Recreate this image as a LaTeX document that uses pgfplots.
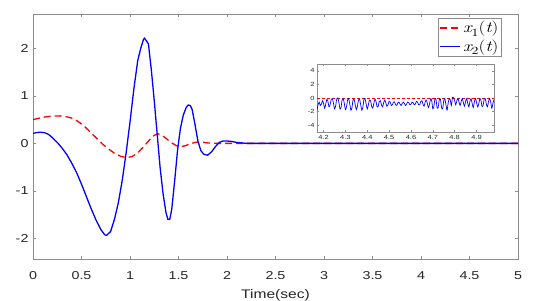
\documentclass[border=0pt]{standalone}
\usepackage{fontspec}
\setmainfont{Liberation Sans}[FakeStretch=1.25]
\newfontfamily\lmr{Latin Modern Roman}[FakeStretch=1.25]
\usepackage{pgfplots}
\pgfplotsset{compat=1.18}
\definecolor{axgray}{gray}{0.55}
\definecolor{lblgray}{gray}{0.15}
\newcommand{\xt}[1]{{\lmr\itshape x\raisebox{-3.2bp}{\fontsize{11}{11}\selectfont\upshape #1}\upshape(\itshape t\upshape)}}
\begin{document}
\begin{tikzpicture}
\begin{axis}[
  name=main, at={(0,0)}, anchor=south west,
  scale only axis, width=485bp, height=245bp,
  xmin=0, xmax=5, ymin=-2.44, ymax=2.73,
  xtick={0,0.5,...,5}, ytick={-2,-1,0,1,2},
  /pgf/number format/assume math mode=true,
  tick label style={font=\fontsize{11.5}{12}\selectfont, text=lblgray},
  xticklabel style={yshift=-9bp},
  yticklabel style={xshift=-1bp},
  tick align=inside, major tick length=3.5bp,
  axis line style={axgray, line width=0.6bp},
  every tick/.style={axgray, line width=0.5bp},
  xlabel={Time(sec)},
  xlabel style={font=\fontsize{12.5}{14}\selectfont, text=lblgray, yshift=-3bp},
  legend style={at={(0.967,0.984)}, anchor=north east, draw=axgray, line width=0.6bp,
    font=\fontsize{15.5}{17}\selectfont, inner sep=1.2bp, row sep=1.5bp, cells={anchor=west}},
  legend image code/.code={\draw[#1] (0bp,0bp) -- (20bp,0bp);},
  clip=true,
]
\addplot[red, draw=red, line width=1.3bp, dash pattern=on 7bp off 4bp] coordinates {
(0,0.5)(0.1,0.55)(0.2,0.575)(0.28,0.58)(0.35,0.56)(0.42,0.52)(0.48,0.44)(0.54,0.34)(0.6,0.22)(0.66,0.1)(0.72,-0.02)(0.78,-0.12)(0.84,-0.21)(0.9,-0.27)(0.96,-0.3)(1.02,-0.28)(1.08,-0.2)(1.14,-0.07)(1.2,0.07)(1.25,0.17)(1.29,0.2)(1.33,0.17)(1.38,0.09)(1.43,0.01)(1.48,-0.05)(1.52,-0.07)(1.57,-0.05)(1.62,-0.01)(1.67,0.02)(1.72,0.03)(1.8,0.01)(1.9,0.0)(5,0)
};
\addlegendentry{\xt{1}}
\addplot[blue, draw=blue, line width=1.3bp] coordinates {
(0,0.21)(0.04,0.23)(0.08,0.235)(0.12,0.225)(0.16,0.19)(0.2,0.12)(0.25,0.02)(0.3,-0.1)(0.35,-0.24)(0.4,-0.42)(0.45,-0.62)(0.5,-0.86)(0.55,-1.12)(0.6,-1.38)(0.65,-1.62)(0.7,-1.82)(0.74,-1.93)(0.76,-1.94)(0.8,-1.86)(0.84,-1.6)(0.88,-1.25)(0.92,-0.78)(0.96,-0.2)(1.0,0.45)(1.04,1.15)(1.08,1.75)(1.11,2.0)(1.14,2.2)(1.15,2.22)(1.19,2.1)(1.22,1.55)(1.25,0.9)(1.28,0.2)(1.31,-0.5)(1.34,-1.05)(1.37,-1.45)(1.39,-1.6)(1.41,-1.6)(1.43,-1.4)(1.46,-0.8)(1.49,-0.15)(1.52,0.32)(1.55,0.6)(1.58,0.76)(1.6,0.81)(1.62,0.8)(1.64,0.72)(1.67,0.4)(1.7,0.05)(1.73,-0.15)(1.76,-0.23)(1.8,-0.25)(1.84,-0.18)(1.88,-0.07)(1.92,0.02)(1.96,0.05)(2.0,0.05)(2.05,0.04)(2.1,0.02)(2.2,0.0)(2.4,0.0)(5,0)
};
\addlegendentry{\xt{2}}
\end{axis}
\begin{axis}[
  at={(284bp,127bp)}, anchor=south west,
  scale only axis, width=177bp, height=68bp,
  xmin=4.17, xmax=4.98, ymin=-5, ymax=5,
  xtick={4.2,4.3,...,4.9}, ytick={-4,-2,0,2,4},
  xticklabels={4.2,4.3,4.4,4.5,4.6,4.7,4.8,4.9},
  /pgf/number format/assume math mode=true,
  tick label style={font=\fontsize{6}{7}\selectfont, text=lblgray},
  xticklabel style={yshift=0bp},
  yticklabel style={xshift=1bp},
  tick align=inside, major tick length=2bp,
  axis line style={axgray, line width=0.5bp},
  every tick/.style={axgray, line width=0.4bp},
  axis background/.style={fill=white},
]
\addplot[red, draw=red, line width=0.7bp, dash pattern=on 3bp off 2bp] coordinates {(4.17,0)(4.98,0)};
\addplot[blue, draw=blue, line width=0.7bp, smooth, tension=0.5] coordinates {
(4.170,-1.8)(4.175,-1.0)(4.180,-0.6)(4.185,-1.1)(4.190,-0.9)(4.195,-0.4)(4.200,-0.8)(4.205,-1.5)(4.210,-0.9)(4.215,-0.2)(4.220,-0.5)(4.225,-1.3)(4.230,-1.0)(4.235,-0.2)(4.240,-0.1)(4.245,-0.7)(4.250,-1.6)(4.255,-1.2)(4.260,-0.2)(4.265,0.0)(4.270,-0.6)(4.275,-1.6)(4.280,-1.4)(4.285,-0.3)(4.290,-0.1)(4.295,-0.8)(4.300,-1.7)(4.305,-1.3)(4.310,-0.3)(4.315,-0.1)(4.320,-0.9)(4.325,-1.8)(4.330,-1.4)(4.335,-0.3)(4.340,-0.2)(4.345,-1.0)(4.350,-1.7)(4.355,-1.2)(4.360,-0.3)(4.365,-0.2)(4.370,-1.0)(4.375,-1.8)(4.380,-1.3)(4.385,-0.2)(4.390,-0.1)(4.395,-0.9)(4.400,-1.6)(4.405,-1.0)(4.410,-0.3)(4.415,-0.4)(4.420,-1.2)(4.425,-1.5)(4.430,-0.8)(4.435,-0.2)(4.440,-0.5)(4.445,-1.3)(4.450,-1.2)(4.455,-0.5)(4.460,-0.4)(4.465,-1.0)(4.470,-1.3)(4.475,-0.7)(4.480,-0.3)(4.485,-0.7)(4.490,-1.2)(4.495,-1.0)(4.500,-0.5)(4.505,-0.6)(4.510,-1.1)(4.515,-1.0)(4.520,-0.6)(4.525,-0.6)(4.530,-1.0)(4.535,-1.1)(4.540,-0.7)(4.545,-0.6)(4.550,-0.9)(4.555,-1.1)(4.560,-0.8)(4.565,-0.6)(4.570,-0.8)(4.575,-1.1)(4.580,-0.9)(4.585,-0.6)(4.590,-0.7)(4.595,-1.0)(4.600,-0.9)(4.605,-0.6)(4.610,-0.7)(4.615,-1.0)(4.620,-0.9)(4.625,-0.5)(4.630,-0.6)(4.635,-1.0)(4.640,-1.0)(4.645,-0.5)(4.650,-0.4)(4.655,-0.9)(4.660,-1.2)(4.665,-0.6)(4.670,-0.3)(4.675,-0.8)(4.680,-1.4)(4.685,-0.9)(4.690,-0.1)(4.695,-0.4)(4.700,-1.6)(4.705,-1.2)(4.710,-0.1)(4.715,-0.3)(4.720,-1.5)(4.725,-1.3)(4.730,-0.2)(4.735,-0.2)(4.740,-1.4)(4.745,-1.6)(4.750,-0.4)(4.755,-0.1)(4.760,-1.0)(4.765,-1.8)(4.770,-0.8)(4.775,-0.1)(4.780,-0.3)(4.785,-1.1)(4.790,0.1)(4.795,0.0)(4.800,-0.4)(4.805,-1.0)(4.810,-0.4)(4.815,-0.1)(4.820,-0.6)(4.825,-1.1)(4.830,-0.5)(4.835,-0.1)(4.840,-0.7)(4.845,-1.2)(4.850,-0.5)(4.855,-0.1)(4.860,-0.8)(4.865,-1.3)(4.870,-0.5)(4.875,-0.1)(4.880,-0.8)(4.885,-1.4)(4.890,-0.6)(4.895,-0.1)(4.900,-0.6)(4.905,-1.3)(4.910,-0.9)(4.915,-0.1)(4.920,-0.3)(4.925,-1.2)(4.930,-1.1)(4.935,-0.2)(4.940,-0.1)(4.945,-0.9)(4.950,-1.3)(4.955,-0.5)(4.960,-0.1)(4.965,-0.6)(4.970,-1.5)(4.975,-0.8)(4.980,-0.2)
};
\node[anchor=south west, inner sep=0.5bp, font=\fontsize{4.5}{5}\selectfont, text=lblgray] at (rel axis cs:0,1) {$\times10^{-4}$};
\end{axis}
\pgfresetboundingbox
\path[use as bounding box] (-33bp,-42bp) rectangle (500bp,259bp);
\end{tikzpicture}
\end{document}
